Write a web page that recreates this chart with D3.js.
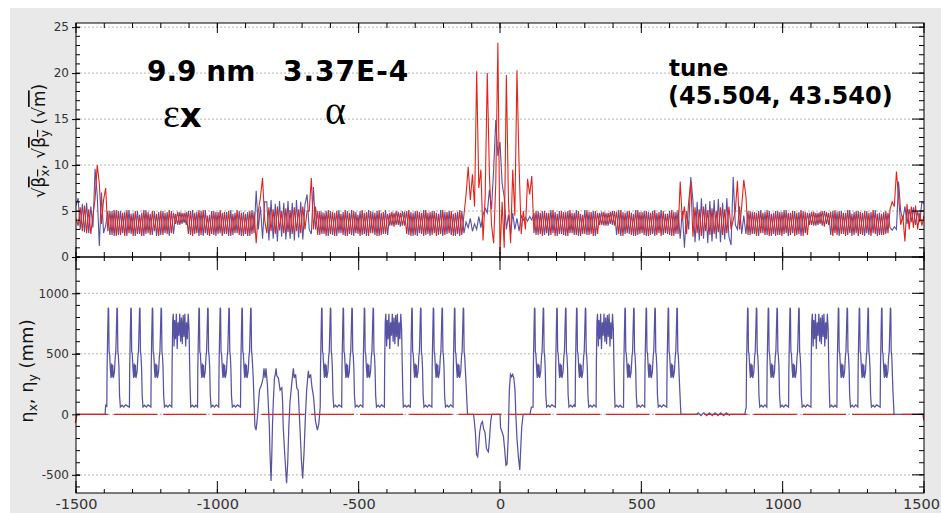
<!DOCTYPE html>
<html><head><meta charset="utf-8">
<script src="https://cdn.jsdelivr.net/npm/d3@7"></script>
<style>body{margin:0;background:#fff}svg{display:block}</style>
</head><body><svg id="c" width="941" height="513"></svg>
<script>
// ---------------- DATA ----------------
// sqrt(beta) sampled along s, from -1500 m every 7.5 m (401 samples), rows of 75 m
const sqrtBetaStart = -1500, sqrtBetaStep = 7.5;
const sqrtBetaX = [
4.2,3.4,5.4,2.8,5.6,2.6,5.2,2.5,4.6,6.3,
10.0,8.0,3.6,6.2,7.5,2.8,5.0,2.4,5.1,2.3,
5.0,2.4,4.8,2.3,5.1,2.6,4.7,2.3,5.0,2.5,
4.6,2.3,5.1,2.5,4.9,2.4,5.0,2.8,4.7,2.3,
5.0,2.4,4.8,2.5,5.1,2.6,4.8,3.6,4.9,3.5,
4.8,3.7,4.9,2.5,5.0,2.3,4.8,2.6,5.1,2.4,
5.1,2.6,4.5,2.3,5.0,2.4,4.9,2.5,5.1,2.3,
4.9,2.5,5.0,2.3,4.7,2.6,5.1,2.4,4.8,2.3,
4.7,2.3,5.0,2.5,4.9,1.5,5.0,6.5,8.6,4.0,
2.6,5.4,2.8,5.2,2.5,5.5,2.9,5.0,2.6,5.3,
2.7,5.1,2.5,5.4,2.8,5.2,2.6,5.5,3.0,5.0,
5.0,8.6,3.0,5.5,2.4,5.0,2.5,4.8,2.3,5.1,
2.5,4.9,2.3,5.0,2.6,4.7,2.4,5.1,2.3,4.8,
2.4,5.0,2.6,4.6,2.3,5.1,2.5,4.9,2.3,5.0,
2.6,4.8,2.3,5.1,2.4,4.9,2.5,4.7,3.4,4.9,
3.3,5.0,3.5,4.8,3.4,4.9,2.5,5.1,2.3,4.8,
2.4,5.0,2.6,4.8,2.3,5.1,2.5,4.9,2.4,5.0,
2.3,4.7,2.5,5.1,2.4,4.9,2.6,5.0,2.3,4.8,
2.5,5.1,2.4,4.6,6.8,9.8,6.2,9.0,5.5,20.2,
7.5,9.5,1.8,6.5,20.0,9.0,3.5,1.5,8.0,23.3,
0.3,6.0,1.0,19.8,6.0,1.5,9.5,4.5,20.3,10.0,
2.5,5.0,3.0,8.5,6.8,8.8,2.6,5.0,2.4,4.8,
2.3,5.0,2.6,4.8,2.4,5.1,2.3,4.7,2.5,5.0,
2.4,4.9,2.3,5.1,2.6,4.8,2.4,5.0,2.3,4.6,
2.5,5.1,2.4,4.9,2.3,5.0,2.5,4.8,3.5,4.9,
3.4,4.8,3.6,5.0,3.4,4.9,2.5,5.1,2.3,4.8,
2.6,5.0,2.4,4.7,2.3,5.1,2.5,4.9,2.4,5.0,
2.3,4.8,2.5,5.1,2.4,4.9,2.3,5.0,2.6,4.7,
2.4,5.1,2.3,4.9,2.5,8.2,4.0,5.5,2.5,6.0,
8.2,2.2,5.4,2.6,5.2,2.3,5.5,2.8,5.1,2.4,
5.3,2.5,5.0,2.7,5.4,2.4,5.2,2.6,5.5,3.0,
4.0,5.0,8.3,3.0,5.5,8.4,6.6,2.4,5.0,2.5,
4.9,2.3,5.0,2.6,4.8,2.4,5.1,2.3,4.7,2.5,
5.0,2.4,4.9,2.3,5.1,2.6,4.8,2.4,5.0,2.3,
4.8,2.5,5.1,2.3,4.9,2.4,4.8,3.5,4.9,3.4,
4.8,3.6,5.0,3.3,4.9,3.5,4.9,2.3,5.1,2.4,
5.0,2.5,4.8,2.3,5.1,2.6,4.7,2.4,5.0,2.3,
4.9,2.4,5.0,2.6,4.8,2.3,5.1,2.5,4.7,2.4,
4.7,2.4,5.0,2.6,5.2,6.0,5.5,9.3,6.5,3.5,
4.5,1.7,5.8,3.0,5.5,3.2,5.6,3.0,4.8,3.4,
4.5];
const sqrtBetaY = [
5.6,6.4,3.0,5.8,2.7,5.9,2.6,5.5,3.2,9.6,
6.8,1.2,7.0,2.6,3.4,5.0,2.4,5.0,2.3,5.1,
2.4,5.0,2.6,4.9,2.3,5.1,2.5,4.8,2.3,5.0,
2.5,4.8,2.3,5.1,2.6,4.7,2.4,5.0,2.3,4.9,
2.4,5.0,2.6,4.9,2.3,5.0,2.5,4.7,3.5,4.9,
3.6,4.8,3.5,5.0,2.4,5.1,2.5,4.9,2.3,5.0,
2.3,5.1,2.4,4.6,2.5,5.0,2.3,4.9,2.6,4.8,
2.5,4.9,2.3,5.1,2.4,4.8,2.6,5.0,2.3,4.9,
2.5,4.9,2.3,5.1,2.6,7.2,3.0,5.5,2.0,6.0,
6.0,1.8,6.2,2.0,5.8,1.7,6.1,2.2,5.9,1.9,
6.1,2.0,5.9,1.8,6.2,2.1,6.0,1.9,5.7,6.8,
3.0,2.5,7.6,3.0,5.0,2.4,4.9,2.5,5.0,2.3,
5.0,2.4,4.8,2.3,5.1,2.6,4.9,2.3,5.0,2.5,
5.1,2.3,4.9,2.5,5.0,2.4,4.8,2.3,5.1,2.6,
4.9,2.4,5.0,2.3,4.8,2.5,5.1,2.4,4.8,3.4,
4.8,3.5,4.9,3.3,5.0,3.4,5.0,2.4,4.9,2.3,
5.0,2.3,4.9,2.5,5.1,2.4,4.8,2.3,5.0,2.6,
4.8,2.4,5.1,2.3,4.9,2.5,5.0,2.4,4.7,2.3,
4.9,2.3,5.0,2.6,3.8,3.2,4.2,2.8,3.6,3.0,
4.4,3.2,4.6,5.3,4.8,7.3,5.2,9.5,14.9,11.0,
12.5,8.0,6.5,3.0,4.6,2.5,4.8,3.0,4.2,2.8,
4.5,4.0,4.3,3.9,4.4,4.0,4.8,2.4,5.0,2.5,
5.0,2.4,4.8,2.3,5.1,2.6,4.9,2.3,5.0,2.5,
4.9,2.3,5.0,2.6,4.8,2.4,5.1,2.3,4.7,2.5,
5.1,2.4,4.9,2.5,5.0,2.3,4.8,3.5,4.9,3.4,
4.8,3.4,4.9,3.5,5.0,2.4,5.1,2.3,4.9,2.5,
5.0,2.5,4.8,2.3,5.1,2.4,4.9,2.6,5.0,2.3,
4.9,2.4,5.0,2.3,4.8,2.6,5.1,2.4,4.7,2.5,
5.0,2.3,4.9,2.5,5.1,2.0,5.0,1.0,5.0,3.0,
8.7,6.2,1.6,6.0,1.8,6.4,2.0,5.8,1.5,6.1,
1.7,6.2,2.0,6.3,1.6,5.9,1.9,6.4,2.2,1.3,
8.7,3.5,3.0,5.5,2.5,4.5,2.5,5.0,2.4,4.9,
2.5,4.8,2.3,5.1,2.6,4.9,2.4,5.0,2.3,4.8,
2.3,5.0,2.4,4.9,2.5,5.1,2.3,4.8,2.6,5.0,
2.4,4.9,2.3,5.0,2.6,4.8,3.5,4.9,3.4,4.8,
3.5,4.9,3.4,5.0,3.6,4.8,2.4,5.0,2.6,4.9,
2.3,5.0,2.5,4.8,2.4,5.1,2.3,4.9,2.6,5.0,
2.5,4.8,2.3,5.0,2.4,4.9,2.6,5.1,2.3,4.8,
2.4,4.9,2.5,4.8,3.2,2.9,3.3,3.0,8.2,5.0,
4.0,5.5,3.6,5.2,3.8,5.4,3.5,5.0,3.8,6.0,
5.8];

// eta_x (mm): one regular arc cell, offsets (m) from the cell's rising edge
const cellOffset = [0,1,3,5,6.5,8,10,13,15,17,19,21,23,27,30,32,34,36,37.5,39,41,43,45,48,54,60,66];
const cellEta    = [60,380,650,880,870,520,500,360,300,420,310,410,300,350,480,520,700,880,870,520,480,380,160,60,75,60,78];
// the longer "plateau" cell
const plateauOffset = [0,1,3,5,8,10,13,16,19,22,25,28,31,34,37,40,43,46,49,52,55,58,61,63,65,67,73,79,85,91];
const plateauEta    = [60,420,760,830,560,780,620,830,540,760,650,830,600,800,580,820,640,830,560,760,620,830,700,420,200,60,75,60,75,60];
// rising-edge positions (m)
const cellStarts     = [-1391,-1311,-1235,-1070,-995,-636,-560,-485,-317,-241,117,196,266,437,512,871,944,1021,1192,1266];
const lastCellStarts = [-918,-166,590,1345];   // last cell of each arc (drawn up to its 2nd peak)
const plateauStarts  = [-1161,-409,340,1100];
// explicitly read eta_x points: straight sections, negative-dispersion section, IR, arc ends
const etaFixedS = [-1500,-1397,-1395,
 -873,-867,-863,-858,-851,-843,-838,-835,-831,-828,-823,-820,-816,-814,-810,-808,-805,-802,-798,-795,-792,-790,-784,-778,-772,-769,-767,-761,-755,-751,-747,-743,-737,-731,-728,-723,-719,-714,-708,-702,-698,-693,-689,-684,-678,-675,-670,-665,-660,-653,-646,-641,
 -120,-115,-94,-92,-87,-83,-79,-76,-72,-67,-62,-58,-53,-48,-44,-41,-37,-33,-29,0,2,8,12,17,21,25,29,33,37,41,45,49,53,56,60,65,70,73,77,82,106,111,
 636,640,696,701,711,721,731,741,751,761,771,781,791,801,811,816,866,
 1390,1394,1500];
const etaFixedV = [0,0,80,
 300,-100,-130,-20,200,250,300,380,300,380,250,100,-100,-300,-550,-400,-100,100,300,330,380,320,300,200,220,100,-100,-350,-570,-400,-100,100,250,380,300,330,220,200,-100,-400,-530,-300,-50,200,360,300,330,220,150,-50,-130,-80,
 250,0,0,-30,-150,-330,-350,-280,-150,-80,-60,-120,-150,-280,-300,-310,-200,-60,0,0,-110,-150,-180,-300,-420,-410,-200,200,330,310,330,300,200,0,-200,-350,-460,-300,-100,0,0,60,
 200,0,0,12,-10,12,-10,12,-10,12,-10,12,-10,12,-8,0,0,
 200,0,0];
// eta_y (mm)
const etaYS = [-1502,-1497,1496,1500];
const etaYV = [-70,0,0,-50];

// axes
const sTicks = [-1500,-1000,-500,0,500,1000,1500];
const betaTicks = [0,5,10,15,20,25];
const etaTicks = [-500,0,500,1000];

// ---------------- DRAW ----------------
const svg = d3.select('#c');
const L = 76, R = 924, T1 = 23, B1 = 257, T2 = 257, B2 = 493;
const x = d3.scaleLinear().domain([-1500, 1500]).range([L, R]);
const y1 = d3.scaleLinear().domain([0, 25.45]).range([B1, T1]);
const y2 = d3.scaleLinear().domain([-650, 1300]).range([B2, T2]);
const RED = '#e3231a', BLUE = '#5753a3';
const FONT = 'DejaVu Sans, Verdana, sans-serif';

svg.append('rect').attr('x', 10).attr('y', 8).attr('width', 931).attr('height', 505).attr('fill', '#e9e9e9');
svg.append('rect').attr('x', L).attr('y', T1).attr('width', R - L).attr('height', B1 - T1).attr('fill', '#fff');
svg.append('rect').attr('x', L).attr('y', T2).attr('width', R - L).attr('height', B2 - T2).attr('fill', '#fff');

const defs = svg.append('defs');
defs.append('clipPath').attr('id', 'cp1').append('rect').attr('x', L).attr('y', T1).attr('width', R - L).attr('height', B1 - T1);
defs.append('clipPath').attr('id', 'cp2').append('rect').attr('x', L - 3).attr('y', T2).attr('width', R - L + 3).attr('height', B2 - T2);

// grid
const gGrid = svg.append('g');
gGrid.append('g').selectAll('line').data(betaTicks.filter(d => d > 0)).join('line')
  .attr('x1', L).attr('x2', R).attr('y1', d => y1(d)).attr('y2', d => y1(d))
  .attr('stroke', '#b4b4b4').attr('stroke-width', 1).attr('stroke-dasharray', '2,2');
gGrid.append('g').selectAll('line').data(etaTicks).join('line')
  .attr('x1', L).attr('x2', R).attr('y1', d => y2(d)).attr('y2', d => y2(d))
  .attr('stroke', '#b4b4b4').attr('stroke-width', 1).attr('stroke-dasharray', '2,2');

// top panel lines
const betaS = d3.range(sqrtBetaX.length).map(i => sqrtBetaStart + i * sqrtBetaStep);
const lineTop = d3.line().x(d => x(d[0])).y(d => y1(d[1]));
const ptsBx = betaS.map((s, i) => [s, sqrtBetaX[i]]);
const ptsBy = betaS.map((s, i) => [s, sqrtBetaY[i]]);
const gTop = svg.append('g').attr('clip-path', 'url(#cp1)');
gTop.append('path').attr('d', lineTop(ptsBy)).attr('fill', 'none').attr('stroke', BLUE).attr('stroke-width', 1.1);
gTop.append('path').attr('d', lineTop(ptsBx)).attr('fill', 'none').attr('stroke', RED).attr('stroke-width', 1.1);

// bottom panel lines
const etaPts = [];
etaFixedS.forEach((s, i) => etaPts.push([s, etaFixedV[i]]));
cellStarts.forEach(r => cellOffset.forEach((o, k) => etaPts.push([r + o, cellEta[k]])));
lastCellStarts.forEach(r => cellOffset.forEach((o, k) => { if (o <= 41) etaPts.push([r + o, cellEta[k]]); }));
plateauStarts.forEach(r => plateauOffset.forEach((o, k) => etaPts.push([r + o, plateauEta[k]])));
etaPts.sort((a, b) => a[0] - b[0]);
const lineBot = d3.line().x(d => x(d[0])).y(d => y2(d[1]));
const gBot = svg.append('g').attr('clip-path', 'url(#cp2)');
gBot.append('path').attr('d', lineBot(etaPts)).attr('fill', 'none').attr('stroke', BLUE).attr('stroke-width', 1.25);
const redPath = gBot.append('path').attr('d', lineBot(etaYS.map((s, i) => [s, etaYV[i]])))
  .attr('fill', 'none').attr('stroke', RED).attr('stroke-width', 1.3);
// the eta_y trace shows short breaks about every 49 px along the zero line
(function () {
  const firstBreakX = 108, period = 49.2, gap = 6;
  const p0 = [x(etaYS[0]), y2(etaYV[0])], p1 = [x(etaYS[1]), y2(etaYV[1])];
  const lead = Math.hypot(p1[0] - p0[0], p1[1] - p0[1]) + (firstBreakX - p1[0]);
  redPath.attr('stroke-dasharray', `${period - gap},${gap}`)
    .attr('stroke-dashoffset', (period - gap) - lead);
})();

// frames
[[T1, B1], [T2, B2]].forEach(([t, b]) => {
  svg.append('rect').attr('x', L).attr('y', t).attr('width', R - L).attr('height', b - t)
    .attr('fill', 'none').attr('stroke', '#000').attr('stroke-width', 1);
});

// x ticks (minor and major through the scale)
const minorS = d3.range(-1500, 1501, 100);
function xTickRow(yPos, dir, majorLen, minorLen) {
  const g = svg.append('g');
  g.append('g').selectAll('line').data(minorS).join('line')
    .attr('x1', d => x(d)).attr('x2', d => x(d)).attr('y1', yPos).attr('y2', yPos + dir * minorLen)
    .attr('stroke', '#000');
  g.append('g').selectAll('line').data(sTicks).join('line')
    .attr('x1', d => x(d)).attr('x2', d => x(d)).attr('y1', yPos).attr('y2', yPos + dir * majorLen)
    .attr('stroke', '#000');
}
xTickRow(T1, 1, 10, 5);
xTickRow(B1, -1, 10, 5);
xTickRow(T2, 1, 13, 4);
xTickRow(B2, -1, 12, 4);

// bottom x axis labels
const xAxis = d3.axisBottom(x).tickValues(sTicks).tickSize(0).tickPadding(0).tickFormat(d => String(d));
const gx = svg.append('g').attr('transform', `translate(0,${B2})`).call(xAxis);
gx.select('.domain').remove();
gx.selectAll('text').attr('font-family', FONT).attr('font-size', 14.5).attr('fill', '#333')
  .attr('y', 15.5).attr('dy', 0)
  .attr('x', d => d === 1500 ? -3 : 0);

// y ticks
function yTicks(scale, minorVals, majorVals, labelSize) {
  const g = svg.append('g');
  g.append('g').selectAll('line').data(minorVals).join('line')
    .attr('x1', L).attr('x2', L + 4).attr('y1', d => scale(d)).attr('y2', d => scale(d)).attr('stroke', '#000');
  g.append('g').selectAll('line').data(minorVals).join('line')
    .attr('x1', R).attr('x2', R - 5).attr('y1', d => scale(d)).attr('y2', d => scale(d)).attr('stroke', '#000');
  g.append('g').selectAll('line').data(majorVals).join('line')
    .attr('x1', R).attr('x2', R - 12).attr('y1', d => scale(d)).attr('y2', d => scale(d)).attr('stroke', '#000');
  const ax = d3.axisLeft(scale).tickValues(majorVals).tickSizeInner(4).tickSizeOuter(0).tickPadding(3).tickFormat(d => String(d));
  const ga = svg.append('g').attr('transform', `translate(${L},0)`).call(ax);
  ga.select('.domain').remove();
  ga.selectAll('line').attr('x2', -4).attr('x1', 4);
  ga.selectAll('text').attr('font-family', FONT).attr('font-size', labelSize).attr('fill', '#333');
}
yTicks(y1, d3.range(0, 26, 1), betaTicks, 12);
yTicks(y2, d3.range(-600, 1301, 100), etaTicks, 12);

// axis titles
const t1 = svg.append('text').attr('transform', 'translate(45,141) rotate(-90)')
  .attr('text-anchor', 'middle').attr('font-family', FONT).attr('font-size', 17).attr('fill', '#111');
t1.append('tspan').text('√');
t1.append('tspan').attr('text-decoration', 'overline').text('β');
t1.append('tspan').attr('font-size', 12).attr('dy', 4).attr('text-decoration', 'overline').text('x');
t1.append('tspan').attr('dy', -4).text(', √');
t1.append('tspan').attr('text-decoration', 'overline').text('β');
t1.append('tspan').attr('font-size', 12).attr('dy', 4).attr('text-decoration', 'overline').text('y');
t1.append('tspan').attr('dy', -4).text(' (√');
t1.append('tspan').attr('text-decoration', 'overline').text('m');
t1.append('tspan').text(')');

const t2 = svg.append('text').attr('transform', 'translate(33,371) rotate(-90)')
  .attr('text-anchor', 'middle').attr('font-family', FONT).attr('font-size', 18).attr('fill', '#111');
t2.append('tspan').text('η');
t2.append('tspan').attr('font-size', 12).attr('dy', 4).text('x');
t2.append('tspan').attr('dy', -4).text(', η');
t2.append('tspan').attr('font-size', 12).attr('dy', 4).text('y');
t2.append('tspan').attr('dy', -4).text(' (mm)');

// annotations
const ann = svg.append('g').attr('font-family', FONT).attr('font-weight', 'bold').attr('fill', '#000');
ann.append('text').attr('x', 147).attr('y', 81).attr('font-size', 28).text('9.9 nm');
ann.append('text').attr('x', 283).attr('y', 81).attr('font-size', 28).attr('letter-spacing', 1).text('3.37E-4');
ann.append('text').attr('x', 669).attr('y', 76).attr('font-size', 23).text('tune');
ann.append('text').attr('x', 668).attr('y', 104).attr('font-size', 24).text('(45.504, 43.540)');
const ex = svg.append('text').attr('x', 163).attr('y', 127);
ex.append('tspan').attr('font-family', 'Liberation Serif, serif').attr('font-size', 40).text('ε');
ex.append('tspan').attr('font-family', FONT).attr('font-weight', 'bold').attr('font-size', 34).text('x');
svg.append('text').attr('x', 325).attr('y', 124).attr('font-family', 'Liberation Serif, serif').attr('font-size', 40).text('α');
</script></body></html>
